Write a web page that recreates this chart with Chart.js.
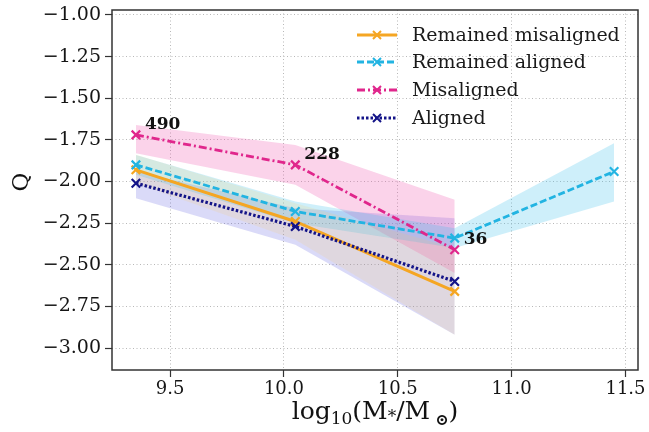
<!DOCTYPE html>
<html>
<head>
<meta charset="utf-8">
<script src="https://cdn.jsdelivr.net/npm/chart.js@4.4.1/dist/chart.umd.min.js"></script>
<style>
html,body{margin:0;padding:0;background:#fff;}
#wrap{width:649px;height:432px;position:relative;}
</style>
</head>
<body>
<div id="wrap"><canvas id="c" width="649" height="432"></canvas></div>
<script>
// ---- data ----
const xBins = [9.35, 10.05, 10.75];
const xBinsAligned4 = [9.35, 10.05, 10.75, 11.45];

const remMisMid = [-1.93, -2.24, -2.66];
const remMisUp  = [-1.84, -2.13, -2.40];
const remMisLo  = [-2.01, -2.35, -2.92];

const remAliMid = [-1.90, -2.18, -2.34, -1.94];
const remAliUp  = [-1.84, -2.12, -2.28, -1.77];
const remAliLo  = [-1.96, -2.25, -2.40, -2.12];

const misMid = [-1.72, -1.90, -2.41];
const misUp  = [-1.66, -1.78, -2.11];
const misLo  = [-1.83, -2.02, -2.55];

const aliMid = [-2.01, -2.27, -2.60];
const aliUp  = [-1.94, -2.16, -2.22];
const aliLo  = [-2.10, -2.38, -2.92];

const misCounts = ["490", "228", "36"];

const xTicks = [9.5, 10.0, 10.5, 11.0, 11.5];
const yTicks = [-3.00, -2.75, -2.50, -2.25, -2.00, -1.75, -1.50, -1.25, -1.00];

const seriesNames = ["Remained misaligned", "Remained aligned", "Misaligned", "Aligned"];

// ---- styles ----
const C_OR = '#F5A623', C_CY = '#22B4E2', C_PK = '#E0268C', C_NV = '#141488';
const F_OR = 'rgba(252,200,80,0.15)', F_CY = 'rgba(60,190,235,0.25)', F_PK = 'rgba(240,80,170,0.25)', F_NV = 'rgba(70,70,220,0.2)';
const SERIF = '"DejaVu Serif", "Liberation Serif", serif';

function pts(xs, ys){ return xs.map((x,i)=>({x:x, y:ys[i]})); }

const styles = [
  {color:C_OR, dash:[], width:3},
  {color:C_CY, dash:[7,3], width:2.8},
  {color:C_PK, dash:[8,3,2,3], width:2.8},
  {color:C_NV, dash:[2.5,2], width:3.2}
];

function lineDS(label, data, st, order){
  return {label, data, borderColor:st.color, backgroundColor:st.color, borderWidth:st.width,
    borderDash:st.dash, pointStyle:'crossRot', pointRadius:6, pointBorderWidth:2.2,
    pointBorderColor:st.color, fill:false, tension:0, order};
}
function bandUp(data, color, target){
  return {label:'_band', data, borderWidth:0, pointRadius:0, backgroundColor:color,
    fill:{target:target}, tension:0, order:20};
}
function bandLo(data){
  return {label:'_band', data, borderWidth:0, pointRadius:0, fill:false, tension:0, order:20};
}

const datasets = [
  lineDS(seriesNames[0], pts(xBins, remMisMid), styles[0], 4),   // 0
  lineDS(seriesNames[1], pts(xBinsAligned4, remAliMid), styles[1], 3), // 1
  lineDS(seriesNames[2], pts(xBins, misMid), styles[2], 2),      // 2
  lineDS(seriesNames[3], pts(xBins, aliMid), styles[3], 1),      // 3
  bandUp(pts(xBins, remMisUp), F_OR, 5),   // 4
  bandLo(pts(xBins, remMisLo)),            // 5
  bandUp(pts(xBinsAligned4, remAliUp), F_CY, 7), // 6
  bandLo(pts(xBinsAligned4, remAliLo)),    // 7
  bandUp(pts(xBins, misUp), F_PK, 9),      // 8
  bandLo(pts(xBins, misLo)),               // 9
  bandUp(pts(xBins, aliUp), F_NV, 11),     // 10
  bandLo(pts(xBins, aliLo))                // 11
];

const framePlugin = {
  id:'frame',
  afterDraw(chart){
    const {ctx, chartArea:a, scales} = chart;
    ctx.save();
    ctx.strokeStyle = '#333';
    ctx.lineWidth = 1.5;
    ctx.setLineDash([]);
    ctx.strokeRect(a.left, a.top, a.right - a.left, a.bottom - a.top);

    // count annotations
    ctx.fillStyle = '#111';
    ctx.font = 'bold 17px ' + SERIF;
    ctx.textAlign = 'left';
    ctx.textBaseline = 'middle';
    misCounts.forEach((t,i)=>{
      const px = scales.x.getPixelForValue(xBins[i]);
      const py = scales.y.getPixelForValue(misMid[i]);
      ctx.fillText(t, px + 9, py - 10);
    });

    // legend
    ctx.font = '19px ' + SERIF;
    const lx0 = a.left + 245, lx1 = a.left + 285, tx = a.left + 300;
    const rows = [a.top + 25, a.top + 52, a.top + 80, a.top + 108];
    seriesNames.forEach((n,i)=>{
      const st = styles[i];
      const y = rows[i];
      ctx.strokeStyle = st.color;
      ctx.lineWidth = st.width;
      ctx.setLineDash(st.dash);
      ctx.beginPath(); ctx.moveTo(lx0, y); ctx.lineTo(lx1, y); ctx.stroke();
      ctx.setLineDash([]);
      ctx.lineWidth = 2;
      const cx = (lx0 + lx1)/2, r = 4;
      ctx.beginPath(); ctx.moveTo(cx-r, y-r); ctx.lineTo(cx+r, y+r); ctx.moveTo(cx+r, y-r); ctx.lineTo(cx-r, y+r); ctx.stroke();
      ctx.fillStyle = '#1a1a1a';
      ctx.fillText(n, tx, y + 1);
    });

    // axis titles
    ctx.fillStyle = '#111';
    ctx.textBaseline = 'alphabetic';
    const cxT = (a.left + a.right)/2;
    const base = 419;
    const parts = [
      {t:'log', f:'25px ' + SERIF, dy:0},
      {t:'10', f:'17px ' + SERIF, dy:5},
      {t:'(M', f:'25px ' + SERIF, dy:0},
      {t:'*', f:'17px ' + SERIF, dy:3},
      {t:'/M', f:'25px ' + SERIF, dy:0},
      {t:'\u2009', f:'25px ' + SERIF, dy:0},
      {t:'\u2299', f:'bold 16px ' + SERIF, dy:6},
      {t:')', f:'25px ' + SERIF, dy:0}
    ];
    let total = 0;
    parts.forEach(p=>{ ctx.font = p.f; p.w = ctx.measureText(p.t).width; total += p.w; });
    let x = cxT - total/2;
    ctx.textAlign = 'left';
    parts.forEach(p=>{ ctx.font = p.f; ctx.fillText(p.t, x, base + p.dy); x += p.w; });

    ctx.save();
    ctx.translate(22, 182);
    ctx.rotate(-Math.PI/2);
    ctx.textAlign = 'center';
    ctx.textBaseline = 'middle';
    ctx.font = '23px ' + SERIF;
    ctx.fillText('Q', 0, 0);
    ctx.restore();
    ctx.restore();
  }
};

new Chart(document.getElementById('c'), {
  type:'line',
  data:{datasets},
  options:{
    responsive:false,
    animation:false,
    layout:{padding:{top:10, right:11, left:0, bottom:0}},
    plugins:{
      legend:{display:false},
      tooltip:{enabled:false},
      filler:{drawTime:'beforeDatasetsDraw', propagate:false}
    },
    scales:{
      x:{
        type:'linear', min:9.245, max:11.555,
        afterBuildTicks(s){ s.ticks = xTicks.map(v=>({value:v})); },
        afterFit(s){ s.height = 62; s.paddingLeft = 0; s.paddingRight = 0; },
        ticks:{font:{family:SERIF, size:18}, color:'#151515', padding:2,
          callback:v=>v.toFixed(1), maxRotation:0, autoSkip:false},
        grid:{color:'#b8b8b8', lineWidth:1, tickLength:7, tickColor:'#333', tickWidth:1.2},
        border:{display:false, dash:[1,2.5]}
      },
      y:{
        type:'linear', min:-3.132, max:-0.97,
        afterBuildTicks(s){ s.ticks = yTicks.map(v=>({value:v})); },
        afterFit(s){ s.width = 112; s.paddingTop = 0; s.paddingBottom = 0; },
        ticks:{font:{family:SERIF, size:19}, color:'#151515', padding:4,
          callback:v=>(v<0?'\u2212':'') + Math.abs(v).toFixed(2), autoSkip:false},
        grid:{color:'#b8b8b8', lineWidth:1, tickLength:7, tickColor:'#333', tickWidth:1.2},
        border:{display:false, dash:[1,2.5]}
      }
    }
  },
  plugins:[framePlugin]
});
</script>
</body>
</html>
